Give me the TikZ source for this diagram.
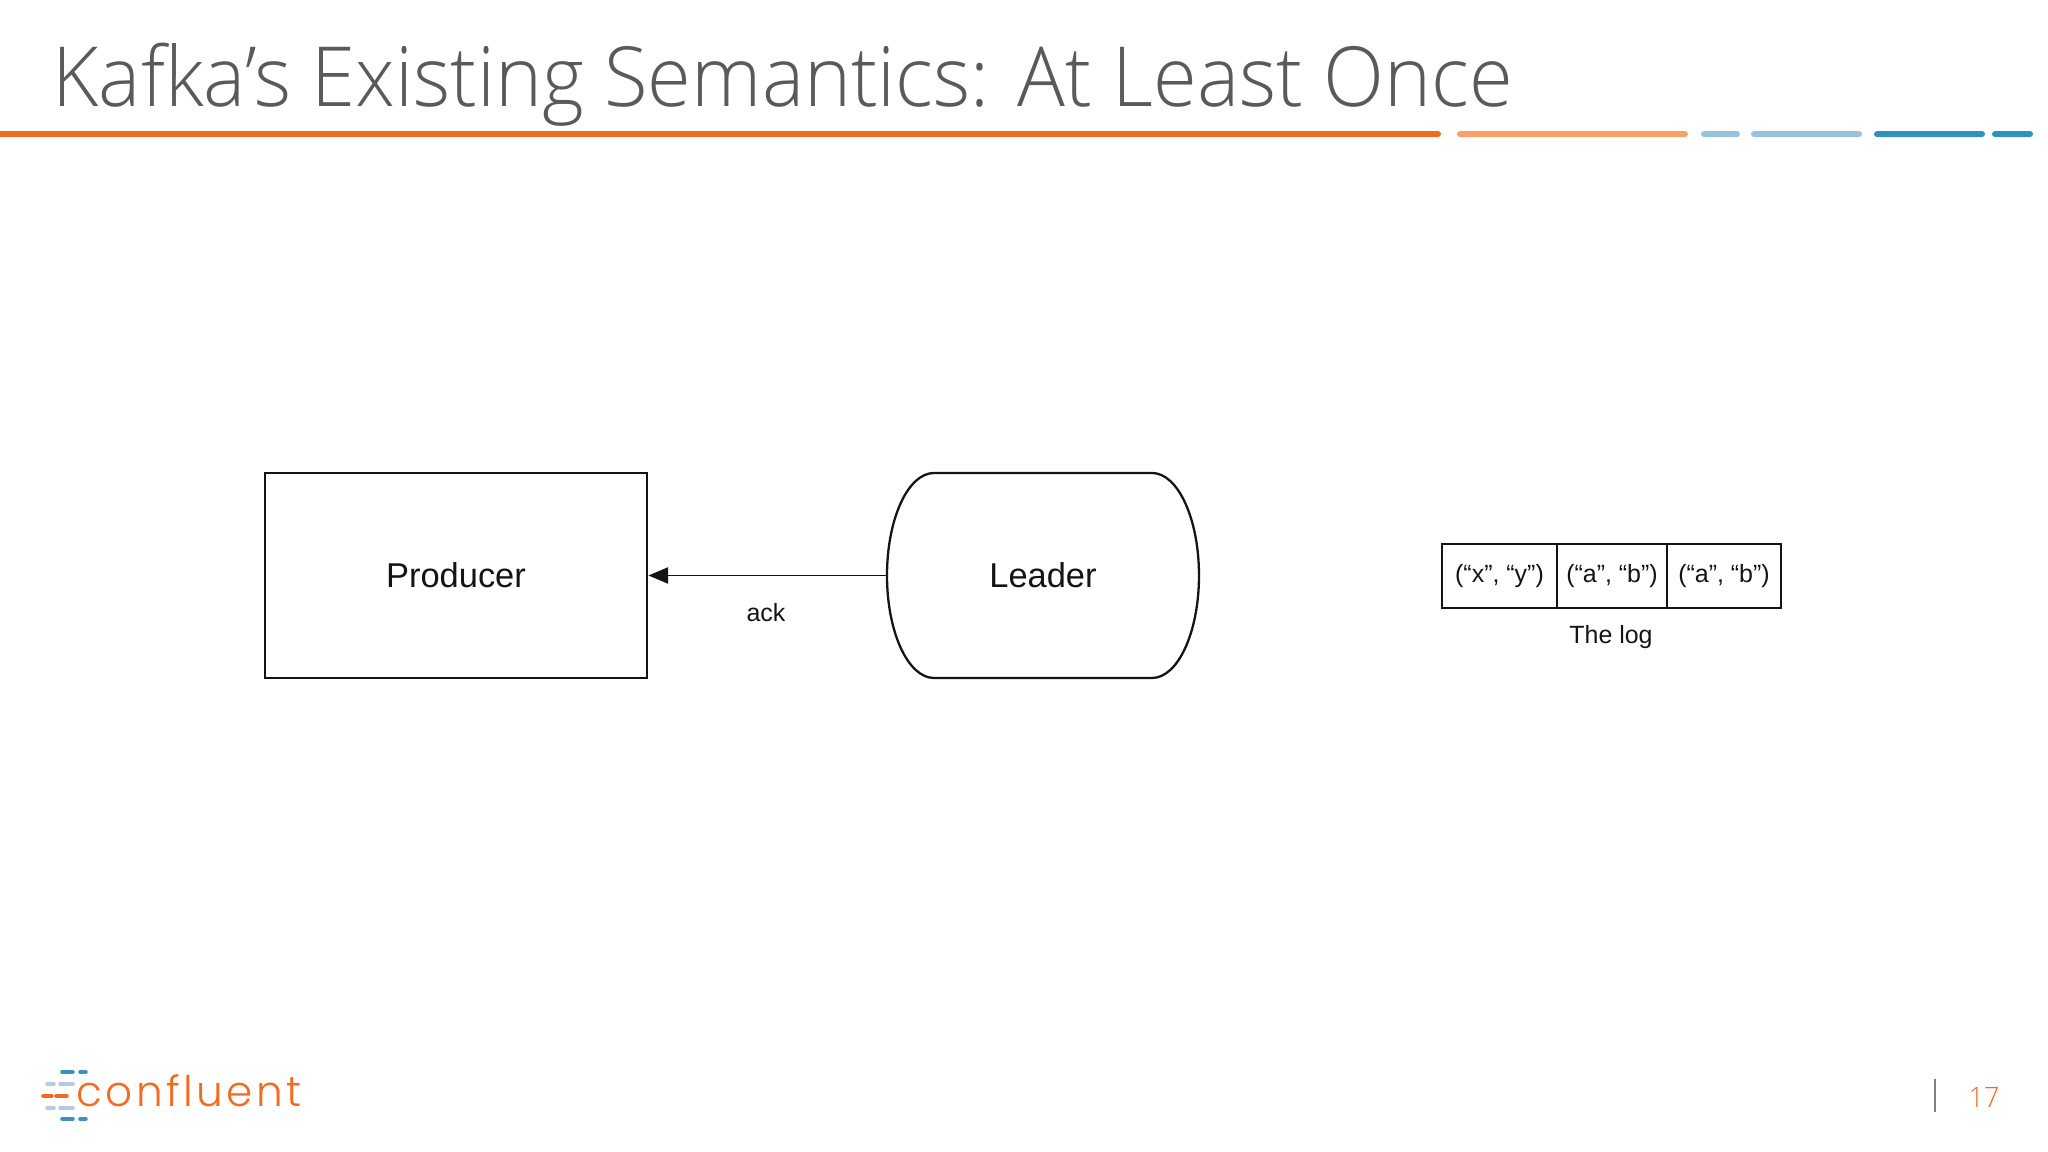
\documentclass[tikz,border=0pt]{standalone}
\usepackage{fontspec}
\setmainfont{Liberation Sans}
\newfontfamily\titlefont[FakeStretch=.96]{Open Sans Light}
\newfontfamily\logofont[LetterSpace=8]{Poppins Light}
\usetikzlibrary{arrows.meta,calc,positioning}
\definecolor{titlegray}{HTML}{5A5A5A}
\definecolor{cfdeep}{HTML}{F26B21}
\definecolor{cfpeach}{HTML}{FBA069}
\definecolor{cfpale}{HTML}{97C3E0}
\definecolor{cfsea}{HTML}{2C94BC}
\definecolor{cfmute}{HTML}{B5CBE0}
\definecolor{cfnavy}{HTML}{408FC4}
\definecolor{inkline}{HTML}{141414}
\def\drumarc[#1](#2)(#3:#4)% Syntax: [draw options] (node) (side radius:half height)
{ \draw[#1] ($(#2.north west)+(#3,0)$) -- ($(#2.north east)+(-#3,0)$) arc (90:-90:#3 and #4) -- ($(#2.south west)+(#3,0)$) arc (270:90:#3 and #4) -- cycle; }
\tikzset{
	bigbox/.style={minimum width=3.82cm, minimum height=2.05cm, inner sep=0pt, outer sep=0pt, font=\fontsize{9.8}{12}\selectfont, text=inkline},
	logcell/.style={draw=inkline, line width=.65pt, minimum height=.64cm, inner sep=0pt, outer sep=0pt, font=\fontsize{7.1}{9}\selectfont, text=inkline},
	smalltext/.style={font=\fontsize{7.1}{9}\selectfont, text=inkline, inner sep=0pt},
	rulebar/.style={line width=1.7pt, line cap=round},
	logobar/.style={line width=1pt, line cap=round}
}
\begin{document}
\begin{tikzpicture}
	\useasboundingbox[fill=white] (0,0) rectangle (20.48,11.52);
	%title
	\node[anchor=base west, inner sep=0pt, text=titlegray, font=\titlefont\fontsize{23.6}{28}\selectfont](title) at (.52,10.45){Kafka’s Existing Semantics: At Least Once};
	%top rule
	\draw[rulebar, cfdeep] (0,10.175) -- (14.38,10.175);
	\foreach \a/\b/\c in {14.60/16.85/cfpeach, 17.04/17.37/cfpale, 17.54/18.59/cfpale, 18.77/19.82/cfsea, 19.95/20.30/cfsea}
		\draw[rulebar, \c] (\a,10.175) -- (\b,10.175);
	%producer and leader
	\node[bigbox, draw=inkline, line width=.65pt](producer) at (4.56,5.765){Producer};
	\node[bigbox, minimum width=3.12cm](leader) at (10.43,5.765){Leader};
	\drumarc[draw=inkline, line width=.65pt](leader)(.47:1.025);
	\draw[-{Triangle[length=5.6pt, width=4.6pt]}, draw=inkline, fill=inkline, line width=.45pt, shorten >=.4pt] (leader.west) -- (producer.east);
	\node[smalltext](ack) at (7.66,5.39){ack};
	%the log
	\node[logcell, minimum width=1.15cm](logx) at (14.995,5.76){(“x”, “y”)};
	\node[logcell, minimum width=1.10cm, right=0pt of logx](logab) {(“a”, “b”)};
	\node[logcell, minimum width=1.14cm, right=0pt of logab](logabb) {(“a”, “b”)};
	\node[smalltext](logname) at (16.11,5.15){The log};
	%logo
	\foreach \a/\b/\y/\c in {.62/.73/.80/cfnavy, .80/.86/.80/cfnavy, .47/.54/.68/cfmute, .60/.73/.68/cfmute, .43/.52/.56/cfdeep, .56/.67/.56/cfdeep, .47/.54/.44/cfmute, .60/.73/.44/cfmute, .62/.73/.33/cfnavy, .80/.86/.33/cfnavy}
		\draw[logobar, \c] (\a,\y) -- (\b,\y);
	\node[anchor=base west, inner sep=0pt, text=cfdeep, font=\logofont\fontsize{12}{16}\selectfont](logo) at (.76,.45){confluent};
	%page number
	\coordinate (sepa) at (19.35,.40);
	\coordinate (sepb) at (19.35,.73);
	\draw[line width=.7pt, draw=gray] (sepa) -- (sepb);
	\node[text=cfdeep, inner sep=0pt, font=\titlefont\fontsize{8}{9}\selectfont](pagenum) at (19.84,.55){17};
\end{tikzpicture}
\end{document}
